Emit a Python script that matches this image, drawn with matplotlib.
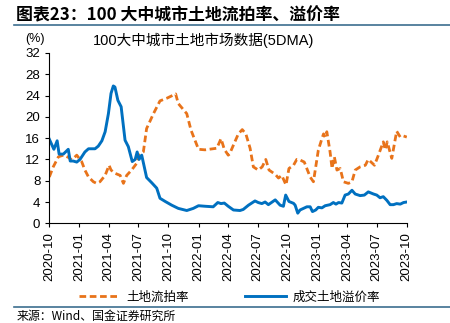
import pandas as pd
import numpy as np
import matplotlib
matplotlib.use('Agg')
import matplotlib.pyplot as plt
import matplotlib.dates as mdates
from matplotlib.lines import Line2D

plt.rcParams['font.family'] = ['Liberation Sans', 'Noto Sans CJK SC', 'DejaVu Sans']

# 成交土地溢价率 (blue)
premium_dates = ['2020-10-01', '2020-10-15', '2020-10-25', '2020-10-31', '2020-11-13', '2020-11-28',
                 '2020-12-04', '2020-12-13', '2020-12-24', '2021-01-03', '2021-01-18', '2021-01-29',
                 '2021-02-18', '2021-02-28', '2021-03-11', '2021-03-21', '2021-03-31', '2021-04-08',
                 '2021-04-15', '2021-04-20', '2021-04-29', '2021-05-09', '2021-05-21', '2021-05-31',
                 '2021-06-12', '2021-06-21', '2021-06-27', '2021-07-03', '2021-07-11', '2021-07-26',
                 '2021-08-11', '2021-08-26', '2021-09-05', '2021-09-21', '2021-10-11', '2021-10-31',
                 '2021-11-26', '2021-12-16', '2022-01-01', '2022-01-21', '2022-02-15', '2022-03-01',
                 '2022-03-11', '2022-03-21', '2022-04-02', '2022-04-18', '2022-05-08', '2022-05-18',
                 '2022-06-03', '2022-06-23', '2022-07-03', '2022-07-14', '2022-07-24', '2022-08-03',
                 '2022-08-24', '2022-09-08', '2022-09-18', '2022-09-25', '2022-10-05', '2022-10-19',
                 '2022-10-24', '2022-11-01', '2022-11-08', '2022-11-29', '2022-12-09', '2022-12-16',
                 '2022-12-26', '2023-01-03', '2023-01-14', '2023-01-24', '2023-02-08', '2023-02-18',
                 '2023-02-26', '2023-03-06', '2023-03-16', '2023-03-26', '2023-04-05', '2023-04-16',
                 '2023-04-26', '2023-05-11', '2023-05-24', '2023-06-05', '2023-06-21', '2023-07-01',
                 '2023-07-11', '2023-07-21', '2023-08-01', '2023-08-11', '2023-08-21', '2023-08-31',
                 '2023-09-11', '2023-09-21', '2023-10-01']
premium_vals = [15.8, 13.9, 15.5, 13.0, 13.0, 13.9,
                11.7, 11.7, 11.5, 12.0, 13.4, 14.0,
                14.0, 14.5, 15.5, 17.2, 20.6, 24.4,
                25.8, 25.6, 23.1, 21.9, 15.6, 14.4,
                11.6, 12.0, 13.4, 12.0, 12.8, 8.6,
                7.6, 6.6, 4.7, 4.1, 3.4, 2.8,
                2.4, 2.8, 3.3, 3.2, 3.1, 3.9,
                3.7, 3.8, 3.2, 2.5, 2.4, 2.6,
                3.4, 4.2, 3.9, 3.7, 4.0, 3.5,
                4.4, 3.4, 3.2, 5.3, 4.1, 3.75,
                3.4, 1.9, 2.5, 3.1, 3.1, 2.2,
                2.5, 3.0, 2.9, 3.3, 3.5, 3.9,
                3.6, 3.9, 3.8, 5.3, 5.5, 6.2,
                5.5, 5.2, 5.3, 5.9, 5.5, 5.3,
                4.8, 5.0, 4.3, 3.5, 3.5, 3.7,
                3.6, 3.9, 4.0]

# 土地流拍率 (orange)
unsold_dates = ['2020-10-01', '2020-10-13', '2020-10-29', '2020-11-13', '2020-11-28', '2020-12-09',
                '2020-12-24', '2021-01-08', '2021-01-18', '2021-01-29', '2021-02-13', '2021-02-23',
                '2021-03-05', '2021-03-21', '2021-04-02', '2021-04-08', '2021-04-20', '2021-05-06',
                '2021-05-16', '2021-05-26', '2021-06-10', '2021-06-26', '2021-07-03', '2021-07-16',
                '2021-07-26', '2021-08-16', '2021-09-05', '2021-09-26', '2021-10-23', '2021-10-31',
                '2021-11-26', '2021-12-09', '2022-01-01', '2022-01-21', '2022-02-26', '2022-03-11',
                '2022-03-21', '2022-04-02', '2022-04-06', '2022-04-18', '2022-05-03', '2022-05-15',
                '2022-05-26', '2022-06-08', '2022-06-18', '2022-07-03', '2022-07-15', '2022-07-26',
                '2022-08-05', '2022-08-24', '2022-09-03', '2022-09-13', '2022-09-26', '2022-10-05',
                '2022-10-19', '2022-10-29', '2022-11-08', '2022-11-21', '2022-12-09', '2022-12-19',
                '2023-01-03', '2023-01-14', '2023-01-19', '2023-01-24', '2023-01-29', '2023-02-08',
                '2023-02-14', '2023-02-21', '2023-03-01', '2023-03-11', '2023-03-21', '2023-04-05',
                '2023-04-16', '2023-04-26', '2023-05-11', '2023-05-27', '2023-06-05', '2023-06-24',
                '2023-07-06', '2023-07-21', '2023-07-27', '2023-08-02', '2023-08-16', '2023-08-31',
                '2023-09-11', '2023-09-21', '2023-10-01']
unsold_vals = [8.7, 10.6, 12.5, 12.8, 12.4, 11.9,
               12.8, 11.6, 10.0, 8.7, 7.8, 7.5,
               7.8, 9.0, 10.9, 10.0, 9.4, 9.0,
               7.5, 9.0, 10.0, 11.3, 12.8, 13.4,
               17.8, 20.6, 23.0, 23.5, 24.3, 22.5,
               20.6, 17.5, 13.9, 13.8, 14.1, 15.9,
               13.9, 12.8, 13.0, 14.7, 16.8, 17.6,
               16.8, 14.1, 10.6, 10.0, 10.6, 12.0,
               10.0, 9.2, 8.5, 9.0, 7.2, 10.3,
               10.9, 12.0, 11.9, 11.5, 8.7, 7.8,
               13.75, 15.9, 16.8, 16.2, 17.2, 13.4,
               10.3, 12.5, 10.0, 10.3, 7.8, 7.5,
               7.8, 10.0, 10.6, 10.9, 12.0, 10.9,
               12.8, 15.3, 13.8, 15.3, 12.2, 17.3,
               16.2, 16.4, 16.2]

c_orange = '#E8731A'
c_blue = '#0070C0'
cjk = ['Noto Sans CJK SC', 'DejaVu Sans']
dash = (0, (2.4, 1.3))

fig = plt.figure(figsize=(4.5, 3.23), dpi=100)
ax = fig.add_axes([0.1096, 0.3087, 0.7944, 0.5273])

ax.plot(pd.to_datetime(unsold_dates), unsold_vals, color=c_orange, lw=2.0,
        ls=dash, label='土地流拍率')
ax.plot(pd.to_datetime(premium_dates), premium_vals, color=c_blue, lw=2.1,
        label='成交土地溢价率')

ax.set_xlim(pd.Timestamp('2020-10-01'), pd.Timestamp('2023-10-01'))
ax.set_ylim(0, 32)
ax.set_yticks(np.arange(0, 33, 4))
ax.xaxis.set_major_locator(mdates.MonthLocator(bymonth=[1, 4, 7, 10]))
ax.xaxis.set_major_formatter(mdates.DateFormatter('%Y-%m'))
plt.setp(ax.get_xticklabels(), rotation=90)
ax.tick_params(labelsize=9.5, length=3, width=0.8, colors='black')
for s in ['top', 'right']:
    ax.spines[s].set_visible(False)
for s in ['left', 'bottom']:
    ax.spines[s].set_linewidth(0.8)

# titles and notes
fig.text(0.035, 0.953, '图表23：100 大中城市土地流拍率、溢价率', family=cjk,
         fontsize=12.2, fontweight='bold', style='italic', va='center')
fig.add_artist(Line2D([0.03, 1.0], [0.922, 0.922], color='#3C6E8F', lw=1.2))
fig.text(0.453, 0.876, '100大中城市土地市场数据(5DMA)', fontsize=10.5,
         ha='center', va='center')
fig.text(0.056, 0.878, '(%)', fontsize=9, va='center')

handles = [Line2D([], [], color=c_orange, lw=2.0, ls=dash),
           Line2D([], [], color=c_blue, lw=2.1)]
fig.legend(handles, ['土地流拍率', '成交土地溢价率'], loc='center',
           bbox_to_anchor=(0.51, 0.08), ncol=2, frameon=False,
           prop={'family': cjk, 'size': 9}, handlelength=3.3,
           columnspacing=4.5, handletextpad=0.5)

fig.add_artist(Line2D([0.03, 1.0], [0.05, 0.05], color='#3C6E8F', lw=1.2))
fig.text(0.037, 0.022, '来源：Wind、国金证券研究所', family=cjk, fontsize=8.6,
         va='center')

fig.savefig('out.png', dpi=100)
